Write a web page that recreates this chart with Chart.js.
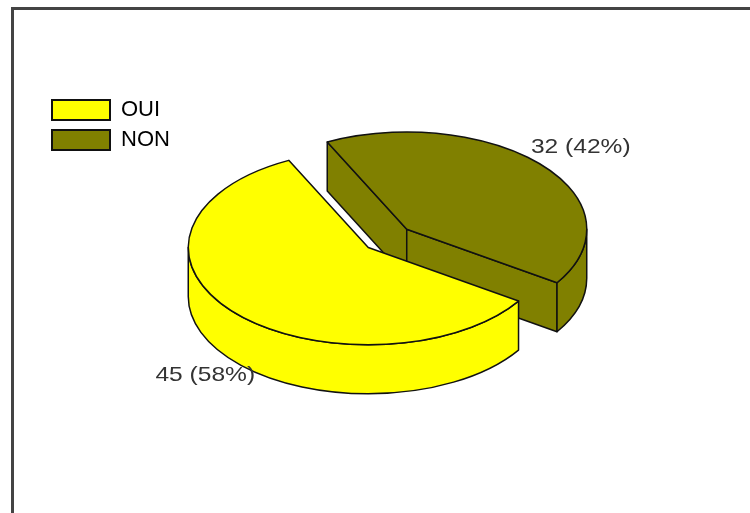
<!DOCTYPE html>
<html>
<head>
<meta charset="utf-8">
<script src="https://cdn.jsdelivr.net/npm/chart.js@4"></script>
<style>
html, body { margin: 0; padding: 0; background: #fff; overflow: hidden; }
#frame { position: absolute; left: 10.5px; top: 7px; width: 745px; height: 512px; border-top: 3px solid #444; border-left: 3px solid #444; box-sizing: border-box; filter: blur(0.5px); }
#pie { position: absolute; left: 0; top: 0; filter: blur(0.6px); }
</style>
</head>
<body>
<canvas id="pie" width="750" height="513"></canvas>
<div id="frame"></div>
<script>
const categories = ['OUI', 'NON'];
const votes = [45, 32];
const sliceColors = ['#ffff00', '#808000'];

// look of the fake 3D pie
const pieCx = 387.5, pieCy = 238.4;
const pieRadius = 180;
const tilt = 0.54;
const depth = 49;
const explode = 0.1425;
const labelNudge = [[-28, 14], [39, -18]];
const edge = '#111';
const edgeWidth = 1.5;

const total = votes.reduce((a, b) => a + b, 0);

// centre on screen of one exploded slice
function sliceCentre(el) {
    const mid = (el.startAngle + el.endAngle) / 2;
    return {
        x: pieCx + Math.cos(mid) * explode * el.outerRadius,
        y: pieCy + Math.sin(mid) * explode * el.outerRadius * tilt
    };
}

function traceArc(ctx, c, r, a0, a1, ccw) {
    ctx.save();
    ctx.translate(c.x, c.y);
    ctx.scale(1, tilt);
    ctx.arc(0, 0, r, a0, a1, ccw);
    ctx.restore();
}

function paint(ctx, color) {
    ctx.fillStyle = color;
    ctx.fill();
    ctx.strokeStyle = edge;
    ctx.lineWidth = edgeWidth;
    ctx.lineJoin = 'round';
    ctx.stroke();
}

function rimWall(ctx, c, r, a0, a1, color) {
    ctx.beginPath();
    traceArc(ctx, c, r, a0, a1, false);
    traceArc(ctx, { x: c.x, y: c.y + depth }, r, a1, a0, true);
    ctx.closePath();
    paint(ctx, color);
}

function cutWall(ctx, c, r, a, color) {
    const x = c.x + Math.cos(a) * r;
    const y = c.y + Math.sin(a) * r * tilt;
    ctx.beginPath();
    ctx.moveTo(c.x, c.y);
    ctx.lineTo(x, y);
    ctx.lineTo(x, y + depth);
    ctx.lineTo(c.x, c.y + depth);
    ctx.closePath();
    paint(ctx, color);
}

function drawSlice(ctx, el, color) {
    const c = sliceCentre(el);
    const r = el.outerRadius;
    const a0 = el.startAngle, a1 = el.endAngle;

    // cut faces that look toward the viewer
    if (Math.sin(a0 - Math.PI / 2) > 0) cutWall(ctx, c, r, a0, color);
    if (Math.sin(a1 + Math.PI / 2) > 0) cutWall(ctx, c, r, a1, color);

    // outer wall, only the front half of the ellipse shows
    for (let k = 0; k < 3; k++) {
        const from = Math.max(a0, k * 2 * Math.PI - 2 * Math.PI);
        const to = Math.min(a1, k * 2 * Math.PI - Math.PI);
        if (to > from) rimWall(ctx, c, r, from, to, color);
    }

    // top face, filled by the arc element itself
    ctx.save();
    ctx.translate(c.x, c.y);
    ctx.scale(1, tilt);
    ctx.translate(-el.x, -el.y);
    el.draw(ctx);
    ctx.restore();

    ctx.beginPath();
    ctx.moveTo(c.x, c.y);
    traceArc(ctx, c, r, a0, a1, false);
    ctx.closePath();
    ctx.strokeStyle = edge;
    ctx.lineWidth = edgeWidth;
    ctx.lineJoin = 'round';
    ctx.stroke();
}

const pie3d = {
    id: 'pie3d',
    beforeDatasetsDraw(chart) {
        const ctx = chart.ctx;
        const arcs = chart.getDatasetMeta(0).data;
        // back slice first
        drawSlice(ctx, arcs[1], sliceColors[1]);
        drawSlice(ctx, arcs[0], sliceColors[0]);

        // value labels
        ctx.save();
        ctx.fillStyle = '#333';
        ctx.font = '21px "Liberation Sans"';
        ctx.textAlign = 'center';
        ctx.textBaseline = 'middle';
        arcs.forEach((el, i) => {
            const c = sliceCentre(el);
            const mid = (el.startAngle + el.endAngle) / 2;
            const x = c.x + Math.cos(mid) * el.outerRadius + labelNudge[i][0];
            let y = c.y + Math.sin(mid) * el.outerRadius * tilt + labelNudge[i][1];
            if (Math.sin(mid) > 0) y += depth;
            const text = votes[i] + ' (' + Math.round(votes[i] / total * 100) + '%)';
            ctx.save();
            ctx.translate(x, y);
            ctx.scale(1.17, 1);
            ctx.fillText(text, 0, 0);
            ctx.restore();
        });
        ctx.restore();
        return false;
    }
};

const ctx = document.getElementById('pie');
new Chart(ctx, {
    type: 'pie',
    data: {
        labels: categories,
        datasets: [{
            data: votes,
            backgroundColor: sliceColors,
            borderWidth: 0
        }]
    },
    options: {
        responsive: false,
        animation: false,
        rotation: 123.4,
        radius: pieRadius,
        layout: { padding: { left: 44, top: 91 } },
        plugins: {
            tooltip: { enabled: false },
            legend: {
                position: 'left',
                align: 'start',
                labels: {
                    boxWidth: 58,
                    boxHeight: 20,
                    padding: 8,
                    color: '#333',
                    font: { family: '"Liberation Sans"', size: 22 },
                    generateLabels(chart) {
                        return categories.map((name, i) => ({
                            text: name,
                            index: i,
                            fillStyle: sliceColors[i],
                            strokeStyle: edge,
                            lineWidth: 2,
                            hidden: false
                        }));
                    }
                }
            }
        }
    },
    plugins: [pie3d]
});
</script>
</body>
</html>
